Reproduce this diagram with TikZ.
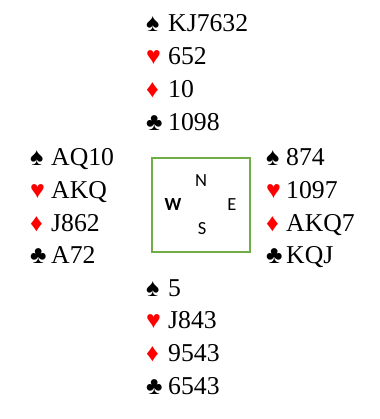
\documentclass[tikz,border=0pt]{standalone}
\usepackage{fontspec}
\setmainfont{Liberation Serif}
\newfontfamily\compassfont{Carlito}
\definecolor{boxgreen}{HTML}{70AD47}
\definecolor{suitred}{HTML}{FF0000}
\tikzset{
  cardtxt/.style={anchor=base west, inner sep=0pt, font=\fontsize{25.7}{30}\selectfont},
  suitblack/.style={anchor=base west, inner sep=0pt, font=\fontsize{25}{28}\selectfont, text=black},
  suitredsty/.style={suitblack, text=suitred},
  compassbox/.style={draw=boxgreen, line width=1.6pt},
  compassltr/.style={inner sep=0pt, font=\compassfont\fontsize{18.5}{20}\selectfont},
  compassbold/.style={inner sep=0pt, font=\compassfont\bfseries\fontsize{18.5}{20}\selectfont}
}
\newcommand{\bridgehand}[8]{%
  % #1 name prefix, #2 x symbol, #3 x text, #4 y baseline first line, #5-#8 holdings
  \node[suitblack] (#1s) at (#2,#4) {♠};
  \node[cardtxt] (#1st) at (#3,#4) {#5};
  \node[suitredsty] (#1h) at (#2,#4+32.8) {♥};
  \node[cardtxt] (#1ht) at (#3,#4+32.8) {#6};
  \node[suitredsty] (#1d) at (#2,#4+65.6) {♦};
  \node[cardtxt] (#1dt) at (#3,#4+65.6) {#7};
  \node[suitblack] (#1c) at (#2,#4+98.4) {♣};
  \node[cardtxt] (#1ct) at (#3,#4+98.4) {#8};
}
\begin{document}
\begin{tikzpicture}[x=1pt,y=-1pt]
\useasboundingbox (0,0) rectangle (379,419);
\bridgehand{n}{146}{168}{32}{KJ7632}{652}{10}{1098}
\bridgehand{w}{30}{51}{165.5}{AQ10}{AKQ}{J862}{A72}
\bridgehand{e}{266}{286}{165.5}{874}{1097}{AKQ7}{KQJ}
\bridgehand{s}{146}{168}{296}{5}{J843}{9543}{6543}
\draw[compassbox] (152,158) rectangle (250,252);
\node[compassltr] (cn) at (201,181) {N};
\node[compassbold] (cw) at (173,204.5) {W};
\node[compassltr] (ce) at (232,204.5) {E};
\node[compassltr] (cs) at (202,229) {S};
\end{tikzpicture}
\end{document}
